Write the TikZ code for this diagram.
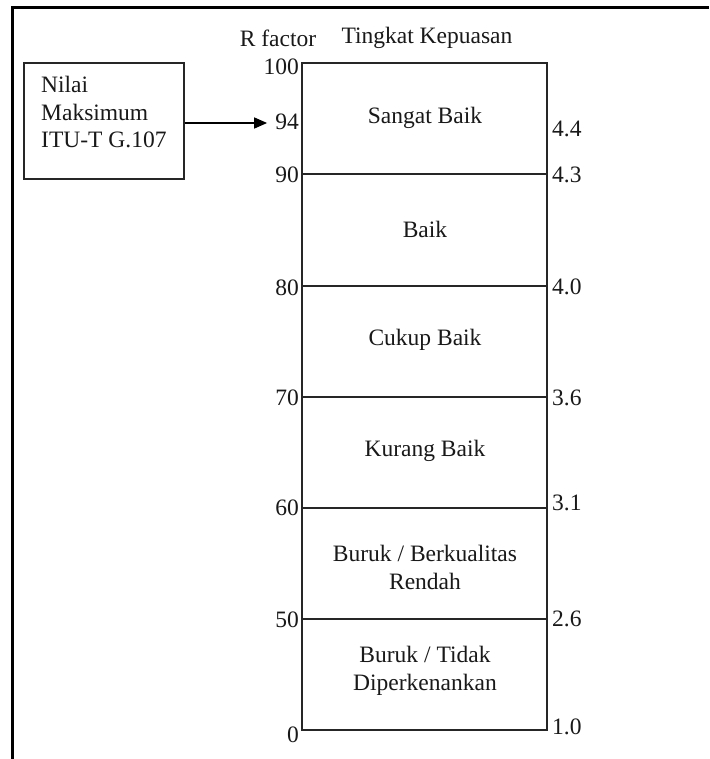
\documentclass[tikz,border=0pt]{standalone}
\usepackage{fontspec}
\setmainfont{Liberation Serif}
\usetikzlibrary{arrows.meta}
\begin{document}
\begin{tikzpicture}[x=1pt,y=-1pt,
  font=\fontsize{23.5}{28}\selectfont,
  frame/.style={line width=3pt,black},
  boxline/.style={line width=1.3pt,draw=black!85},
  lefttick/.style={anchor=east,inner sep=0pt,text=black!90},
  righttick/.style={anchor=west,inner sep=0pt,text=black!90},
  cat/.style={align=center,inner sep=0pt,text=black!90},
  head/.style={inner sep=0pt,text=black!90}]
\useasboundingbox[fill=white] (0,0) rectangle (709,759);
% outer frame (top and left)
\draw[frame] (12,759) -- (12,8) -- (709,8);
% headers
\node[head] (hr) at (278,38) {R factor};
\node[head] (ht) at (427,38) {Tingkat Kepuasan};
% main column
\node[boxline,draw,minimum width=245pt,minimum height=667pt,inner sep=0pt] (col) at (424.5,396.5) {};
\foreach \y/\n in {174/a,286/b,397/c,508/d,619/e}{
  \coordinate (l\n) at (302,\y);
  \coordinate (r\n) at (547,\y);
  \draw[boxline] (l\n) -- (r\n);
}
% left R-factor labels
\node[lefttick] (t100) at (299,67) {100};
\node[lefttick] (t94) at (299,122) {94};
\node[lefttick] (t90) at (299,175) {90};
\node[lefttick] (t80) at (299,288) {80};
\node[lefttick] (t70) at (299,398) {70};
\node[lefttick] (t60) at (299,508) {60};
\node[lefttick] (t50) at (299,620) {50};
\node[lefttick] (t0) at (299,735) {0};
% right MOS labels
\node[righttick] (m44) at (552,129) {4.4};
\node[righttick] (m43) at (552,175) {4.3};
\node[righttick] (m40) at (552,287) {4.0};
\node[righttick] (m36) at (552,398) {3.6};
\node[righttick] (m31) at (552,503) {3.1};
\node[righttick] (m26) at (552,619) {2.6};
\node[righttick] (m10) at (552,727) {1.0};
% categories
\node[cat] (c1) at (425,118) {Sangat Baik};
\node[cat] (c2) at (425,229) {Baik};
\node[cat] (c3) at (425,340) {Cukup Baik};
\node[cat] (c4) at (425,451) {Kurang Baik};
\node[cat] (c5) at (425,567) {Buruk / Berkualitas\\Rendah};
\node[cat] (c6) at (425,671) {Buruk / Tidak\\Diperkenankan};
% left box
\node[boxline,draw,minimum width=160pt,minimum height=116pt,inner sep=0pt] (maxbox) at (104,121) {};
\node[cat,align=left,anchor=north west,font=\fontsize{23.5}{27.5}\selectfont] (maxtxt) at (41,76) {Nilai\\Maksimum\\ITU-T G.107};
\draw[line width=1.5pt,-{Triangle[length=13pt,width=11pt]}] (maxbox.east |- 0,123) -- ([xshift=-8pt]t94.west |- 0,123);
\end{tikzpicture}
\end{document}
